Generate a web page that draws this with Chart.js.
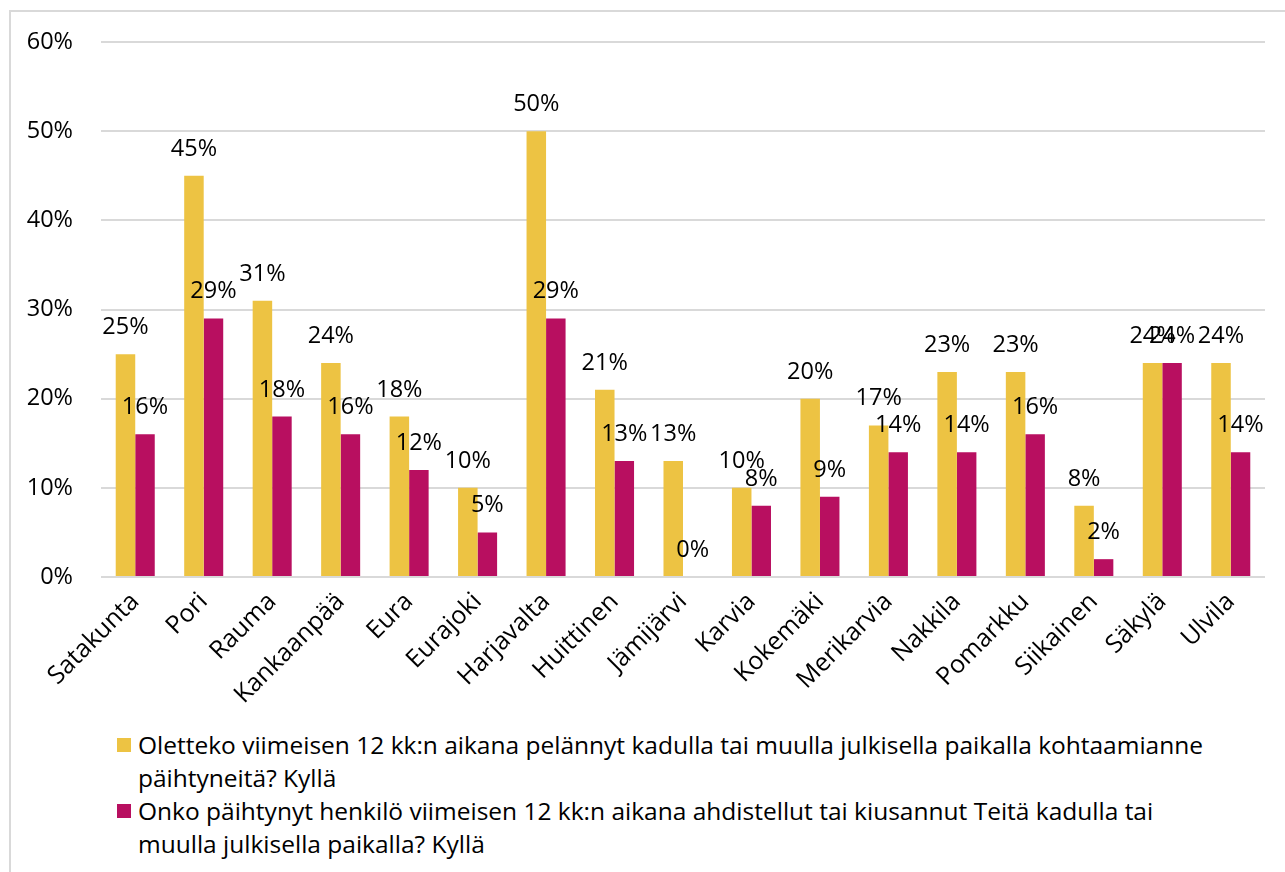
<!DOCTYPE html>
<html>
<head>
<meta charset="utf-8">
<script src="https://cdn.jsdelivr.net/npm/chart.js@4"></script>
<style>
  body { margin: 0; background: #fff; font-family: 'Open Sans', sans-serif; overflow: hidden; }
  #frame { position: absolute; left: 9px; top: 10px; width: 1300px; height: 900px; border: 2px solid #d9d9d9; box-sizing: border-box; }
  #wrap { position: absolute; left: 0; top: 0; width: 1285px; height: 720px; }
  #legend { position: absolute; left: 117px; top: 728px; font-size: 24.5px; line-height: 33px; color: #000; white-space: nowrap; }
  .item { position: relative; padding-left: 21px; }
  .box { position: absolute; left: 0; top: 10px; width: 14px; height: 14px; }
</style>
</head>
<body>
<div id="frame"></div>
<div id="wrap"><canvas id="chart"></canvas></div>
<div id="legend"></div>
<script>
const categories = ['Satakunta', 'Pori', 'Rauma', 'Kankaanpää', 'Eura', 'Eurajoki', 'Harjavalta', 'Huittinen', 'Jämijärvi', 'Karvia', 'Kokemäki', 'Merikarvia', 'Nakkila', 'Pomarkku', 'Siikainen', 'Säkylä', 'Ulvila'];
const fearedValues = [25, 45, 31, 24, 18, 10, 50, 21, 13, 10, 20, 17, 23, 23, 8, 24, 24];
const harassedValues = [16, 29, 18, 16, 12, 5, 29, 13, 0, 8, 9, 14, 14, 16, 2, 24, 14];
const fearedLabel = ['Oletteko viimeisen 12 kk:n aikana pelännyt kadulla tai muulla julkisella paikalla kohtaamianne', 'päihtyneitä? Kyllä'];
const harassedLabel = ['Onko päihtynyt henkilö viimeisen 12 kk:n aikana ahdistellut tai kiusannut Teitä kadulla tai', 'muulla julkisella paikalla? Kyllä'];
const yTicks = [0, 10, 20, 30, 40, 50, 60];

const yellow = '#EDC343';
const magenta = '#B80F60';
const fontFamily = "'Open Sans'";

// value labels above each bar
const barLabels = {
    id: 'barLabels',
    afterDatasetsDraw(chart) {
        const ctx = chart.ctx;
        ctx.save();
        ctx.font = '23.5px ' + fontFamily;
        ctx.fillStyle = '#000';
        ctx.textAlign = 'center';
        ctx.textBaseline = 'alphabetic';
        chart.data.datasets.forEach((ds, i) => {
            chart.getDatasetMeta(i).data.forEach((bar, j) => {
                ctx.fillText(ds.data[j] + '%', bar.x, bar.y - 20);
            });
        });
        ctx.restore();
    }
};

const chart = new Chart(document.getElementById('chart'), {
    type: 'bar',
    data: {
        labels: categories,
        datasets: [
            { label: fearedLabel.join(' '), data: fearedValues, backgroundColor: yellow },
            { label: harassedLabel.join(' '), data: harassedValues, backgroundColor: magenta }
        ]
    },
    options: {
        responsive: true,
        maintainAspectRatio: false,
        animation: false,
        layout: { padding: { top: 41, right: 20, left: 0, bottom: 0 } },
        datasets: { bar: { categoryPercentage: 0.57, barPercentage: 1.0 } },
        plugins: {
            legend: { display: false },
            tooltip: { enabled: false }
        },
        scales: {
            x: {
                grid: { display: false },
                border: { display: false },
                ticks: {
                    color: '#000',
                    font: { family: fontFamily, size: 25 },
                    minRotation: 45,
                    maxRotation: 45,
                    padding: 2,
                    autoSkip: false
                },
                afterFit: (s) => { s.height = 143; }
            },
            y: {
                min: 0,
                max: 60,
                afterBuildTicks: (s) => { s.ticks = yTicks.map(v => ({ value: v })); },
                grid: { color: '#d9d9d9', lineWidth: 2, drawTicks: false },
                border: { display: false },
                ticks: {
                    color: '#000',
                    font: { family: fontFamily, size: 23.5 },
                    padding: 28,
                    callback: (v) => v + '%'
                },
                afterFit: (s) => { s.width = 101; }
            }
        }
    },
    plugins: [barLabels]
});

// legend with wrapped lines
const legend = document.getElementById('legend');
[[fearedLabel, yellow], [harassedLabel, magenta]].forEach(([lines, color]) => {
    const item = document.createElement('div');
    item.className = 'item';
    const box = document.createElement('span');
    box.className = 'box';
    box.style.background = color;
    item.appendChild(box);
    lines.forEach((line, i) => {
        if (i > 0) item.appendChild(document.createElement('br'));
        item.appendChild(document.createTextNode(line));
    });
    legend.appendChild(item);
});
</script>
</body>
</html>
